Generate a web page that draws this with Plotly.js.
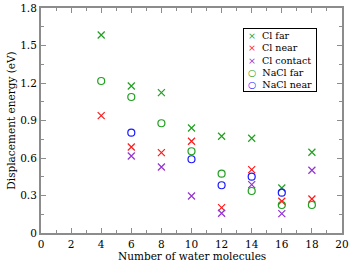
<!DOCTYPE html>
<html><head><meta charset="utf-8">
<script src="https://cdn.plot.ly/plotly-3.0.1.min.js"></script>
<style>html,body{margin:0;padding:0;background:#fff}#chart{width:354px;height:274px}</style>
</head><body><div id="chart"></div>
<script>
const clFarX = [4, 6, 8, 10, 12, 14, 16, 18];
const clFarY = [1.584, 1.176, 1.123, 0.84, 0.774, 0.758, 0.36, 0.646];
const clNearX = [4, 6, 8, 10, 12, 14, 16, 18];
const clNearY = [0.939, 0.688, 0.643, 0.734, 0.203, 0.507, 0.254, 0.272];
const clContactX = [6, 8, 10, 12, 14, 16, 18];
const clContactY = [0.616, 0.528, 0.296, 0.158, 0.387, 0.155, 0.502];
const naclFarX = [4, 6, 8, 10, 12, 14, 16, 18];
const naclFarY = [1.216, 1.088, 0.878, 0.654, 0.475, 0.336, 0.224, 0.224];
const naclNearX = [6, 10, 12, 14, 16];
const naclNearY = [0.803, 0.59, 0.382, 0.451, 0.323];
const seriesNames = ['Cl far', 'Cl near', 'Cl contact', 'NaCl far', 'NaCl near'];
const yTickVals = [0, 0.3, 0.6, 0.9, 1.2, 1.5, 1.8];
const yTickText = ['0', '0.3', '0.6', '0.9', '1.2', '1.5', '1.8'];

const green = '#1fa01f', red = '#ff1a1a', purple = '#9432d3', blue = '#1a1aff';
const colors = [green, red, purple, green, blue];
const symbols = ['x-thin-open', 'x-thin-open', 'x-thin-open', 'circle-open', 'circle-open'];
const glyphs = ['\u00d7', '\u00d7', '\u00d7', '\u25cb', '\u25cb'];
const xs = [clFarX, clNearX, clContactX, naclFarX, naclNearX];
const ys = [clFarY, clNearY, clContactY, naclFarY, naclNearY];

const data = seriesNames.map((n, i) => ({type:'scatter', mode:'markers', name:n, x:xs[i], y:ys[i],
  marker:{symbol:symbols[i], size:7, color:colors[i], line:{color:colors[i], width:1.2}}}));

const legendText = seriesNames.map((n, i) =>
  '&nbsp;<span style="color:' + colors[i] + '">' + glyphs[i] + '</span>&nbsp;&nbsp;' + n + '&nbsp;').join('<br>');

const fam = "DejaVu Serif";
const font = {family:fam, color:'#000'};
const axBase = {showgrid:false, zeroline:false, showline:true, linecolor:'#8c8c8c', linewidth:2,
  mirror:'allticks', ticks:'inside', ticklen:5, tickwidth:1, tickcolor:'#8c8c8c',
  tickfont:{family:fam, color:'#000', size:10.5}};
const layout = {
  width:354, height:274,
  margin:{l:41, r:12, t:8, b:41},
  paper_bgcolor:'#fff', plot_bgcolor:'#fff',
  font:font,
  showlegend:false,
  annotations:[
    {xref:'paper', yref:'paper', x:0.671, y:0.911, xanchor:'left', yanchor:'top', showarrow:false,
     align:'left', text:legendText, font:{family:fam, color:'#000', size:9.5},
     bordercolor:'#000', borderwidth:1, borderpad:1, bgcolor:'#fff'},
    {xref:'paper', yref:'paper', x:0.5, y:-0.103, xanchor:'center', yanchor:'middle', showarrow:false,
     text:'Number of water molecules', font:{family:fam, color:'#000', size:10.5}}
  ],
  xaxis:Object.assign({}, axBase, {range:[0,20], tickmode:'linear', tick0:0, dtick:2,
    minor:{ticks:'inside', ticklen:3, tickcolor:'#8c8c8c', dtick:1}}),
  yaxis:Object.assign({}, axBase, {range:[0,1.8], tickmode:'array', tickvals:yTickVals, ticktext:yTickText,
    minor:{ticks:'inside', ticklen:3, tickcolor:'#8c8c8c', dtick:0.15},
    title:{text:'Displacement energy (eV)', font:{family:fam, color:'#000', size:10.5}, standoff:3}})
};
Plotly.newPlot('chart', data, layout, {displayModeBar:false, staticPlot:true});
</script></body></html>
